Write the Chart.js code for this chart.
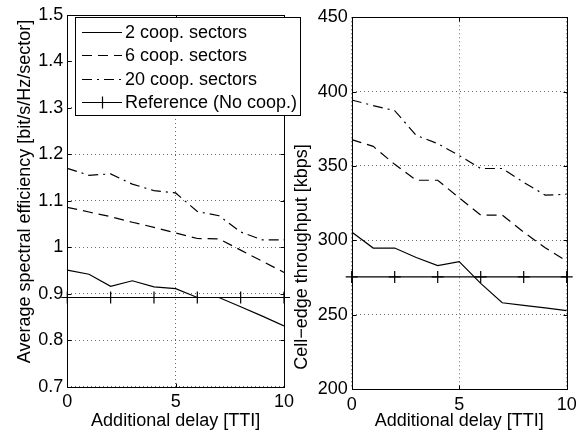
<!DOCTYPE html>
<html>
<head>
<meta charset="utf-8">
<script src="https://cdn.jsdelivr.net/npm/chart.js@4"></script>
<style>
html,body{margin:0;padding:0;background:#fff;width:585px;height:432px;overflow:hidden}
#c1{position:absolute;left:0;top:0}
#c2{position:absolute;left:280px;top:0}
</style>
</head>
<body>
<canvas id="c1" width="310" height="432" style="width:310px;height:432px"></canvas>
<canvas id="c2" width="305" height="432" style="width:305px;height:432px"></canvas>
<script>
// ---------- data ----------
const delays = [0, 1, 2, 3, 4, 5, 6, 7, 8, 9, 10];
const refDelays = [0, 2, 4, 6, 8, 10];
const seriesLabels = ['2 coop. sectors', '6 coop. sectors', '20 coop. sectors', 'Reference (No coop.)'];

// Left: average spectral efficiency [bit/s/Hz/sector]
const seCoop2  = [0.951, 0.942, 0.916, 0.928, 0.915, 0.911, 0.892, 0.892, 0.872, 0.852, 0.831];
const seCoop6  = [1.086, 1.076, 1.066, 1.054, 1.043, 1.031, 1.019, 1.018, 0.994, 0.970, 0.946];
const seCoop20 = [1.170, 1.155, 1.158, 1.136, 1.122, 1.117, 1.077, 1.068, 1.033, 1.016, 1.016];
const seRef    = [0.892, 0.892, 0.892, 0.892, 0.892, 0.892];

// Right: cell-edge throughput [kbps]
const tpCoop2  = [305.6, 294.8, 294.8, 288.4, 283.0, 285.7, 271.0, 258.0, 256.3, 254.5, 252.7];
const tpCoop6  = [367.7, 363.2, 351.1, 340.4, 340.4, 328.6, 317.0, 317.0, 305.5, 295.0, 286.0];
const tpCoop20 = [394.4, 390.6, 387.2, 370.6, 365.0, 357.0, 348.3, 348.3, 339.0, 330.4, 331.0];
const tpRef    = [275.4, 275.4, 275.4, 275.4, 275.4, 275.4];

// tick labels
const xTicks = [0, 5, 10];
const seTicks = [0.7, 0.8, 0.9, 1.0, 1.1, 1.2, 1.3, 1.4, 1.5];
const tpTicks = [200, 250, 300, 350, 400, 450];

const xTitle = 'Additional delay [TTI]';
const seTitle = 'Average spectral efficiency [bit/s/Hz/sector]';
const tpTitle = 'Cell\u2212edge throughput [kbps]';

// ---------- styling ----------
const FONT = "'Liberation Sans', Arial, Helvetica, sans-serif";
Chart.defaults.font.family = FONT;
Chart.defaults.font.size = 18;
Chart.defaults.color = '#000';

const dashes = [[], [10, 6], [10, 5, 2, 5], []];

function pts(xs, ys) { return xs.map((x, i) => ({ x: x, y: ys[i] })); }

function makeDatasets(s2, s6, s20, ref) {
  const series = [s2, s6, s20];
  const ds = series.map((s, i) => ({
    label: seriesLabels[i],
    data: pts(delays, s),
    borderColor: '#000',
    borderWidth: 1.2,
    borderDash: dashes[i],
    pointRadius: 0,
    fill: false,
    tension: 0
  }));
  ds.push({
    label: seriesLabels[3],
    data: pts(refDelays, ref),
    borderColor: '#000',
    borderWidth: 1.2,
    borderDash: [],
    pointStyle: 'cross',
    pointRadius: 6,
    pointBorderWidth: 1.2,
    pointBorderColor: '#000',
    fill: false,
    tension: 0,
    clip: false
  });
  return ds;
}

const framePlugin = {
  id: 'frame',
  afterDatasetsDraw(chart) {
    const { ctx, chartArea: a } = chart;
    const x = chart.scales.x, y = chart.scales.y;
    const l = Math.round(a.left) + 0.5, r = Math.round(a.right) + 0.5;
    const t = Math.round(a.top) + 0.5, b = Math.round(a.bottom) + 0.5;
    ctx.save();
    ctx.setLineDash([]);
    ctx.strokeStyle = '#000';
    ctx.lineWidth = 1;
    ctx.strokeRect(l, t, r - l, b - t);
    const L = 4;
    ctx.beginPath();
    y.ticks.forEach(tk => {
      const p = Math.round(y.getPixelForValue(tk.value)) + 0.5;
      ctx.moveTo(l, p); ctx.lineTo(l + L, p);
      ctx.moveTo(r, p); ctx.lineTo(r - L, p);
    });
    x.ticks.forEach(tk => {
      const p = Math.round(x.getPixelForValue(tk.value)) + 0.5;
      ctx.moveTo(p, b); ctx.lineTo(p, b - L);
      ctx.moveTo(p, t); ctx.lineTo(p, t + L);
    });
    ctx.stroke();
    ctx.restore();
  }
};

function yTitlePlugin(text, cx, cy) {
  return {
    id: 'ytitle',
    afterDraw(chart) {
      const ctx = chart.ctx;
      ctx.save();
      ctx.translate(cx, cy);
      ctx.rotate(-Math.PI / 2);
      ctx.font = '18px ' + FONT;
      ctx.fillStyle = '#000';
      ctx.textAlign = 'center';
      ctx.textBaseline = 'middle';
      ctx.fillText(text, 0, 0);
      ctx.restore();
    }
  };
}

const legendPlugin = {
  id: 'boxLegend',
  afterDraw(chart) {
    const ctx = chart.ctx;
    const bx = 75.5, by = 17.5, bw = 225, bh = 98;
    ctx.save();
    ctx.fillStyle = '#fff';
    ctx.fillRect(bx, by, bw, bh);
    ctx.strokeStyle = '#000';
    ctx.lineWidth = 1;
    ctx.setLineDash([]);
    ctx.strokeRect(bx, by, bw, bh);
    chart.data.datasets.forEach((ds, i) => {
      const yy = Math.round(32.3 + i * 23.1) + 0.5;
      ctx.strokeStyle = '#000';
      ctx.lineWidth = ds.borderWidth;
      ctx.setLineDash(ds.borderDash || []);
      ctx.beginPath();
      ctx.moveTo(82, yy); ctx.lineTo(122, yy);
      ctx.stroke();
      if (ds.pointStyle === 'cross') {
        ctx.setLineDash([]);
        ctx.beginPath();
        ctx.moveTo(102.5, yy - 6); ctx.lineTo(102.5, yy + 6);
        ctx.stroke();
      }
      ctx.fillStyle = '#000';
      ctx.font = '18px ' + FONT;
      ctx.textAlign = 'left';
      ctx.textBaseline = 'middle';
      ctx.fillText(ds.label, 125, yy + 1);
    });
    ctx.restore();
  }
};

function makeChart(id, datasets, yTickVals, o, extraPlugins) {
  return new Chart(document.getElementById(id), {
    type: 'line',
    data: { datasets: datasets },
    options: {
      responsive: false,
      animation: false,
      events: [],
      layout: { padding: { left: 0, right: o.padRight, top: o.padTop, bottom: 0 } },
      plugins: { legend: { display: false }, tooltip: { enabled: false } },
      scales: {
        x: {
          type: 'linear',
          min: xTicks[0], max: xTicks[xTicks.length - 1],
          afterBuildTicks: s => { s.ticks = xTicks.map(v => ({ value: v })); },
          afterFit: s => { s.height = o.xAxisH; },
          grid: { color: '#666', lineWidth: 1, drawTicks: false },
          border: { display: false, dash: [1, 3] },
          ticks: { padding: 5, maxRotation: 0, autoSkip: false, callback: v => String(v) },
          title: { display: true, text: xTitle, padding: 0, font: { size: 18 } }
        },
        y: {
          type: 'linear',
          min: yTickVals[0], max: yTickVals[yTickVals.length - 1],
          afterBuildTicks: s => { s.ticks = yTickVals.map(v => ({ value: v })); },
          afterFit: s => { s.width = o.yAxisW; },
          grid: { color: '#666', lineWidth: 1, drawTicks: false },
          border: { display: false, dash: [1, 3] },
          ticks: { padding: 4, autoSkip: false, callback: v => String(v) }
        }
      }
    },
    plugins: [framePlugin].concat(extraPlugins)
  });
}

makeChart('c1', makeDatasets(seCoop2, seCoop6, seCoop20, seRef), seTicks,
  { padRight: 310 - 284, padTop: 15, xAxisH: 432 - 386.7, yAxisW: 67.3 },
  [yTitlePlugin(seTitle, 25.5, 191.5), legendPlugin]);

makeChart('c2', makeDatasets(tpCoop2, tpCoop6, tpCoop20, tpRef), tpTicks,
  { padRight: 305 - (566.7 - 280), padTop: 17.3, xAxisH: 432 - 389, yAxisW: 351.7 - 280 },
  [yTitlePlugin(tpTitle, 21.7, 257)]);
</script>
</body>
</html>
